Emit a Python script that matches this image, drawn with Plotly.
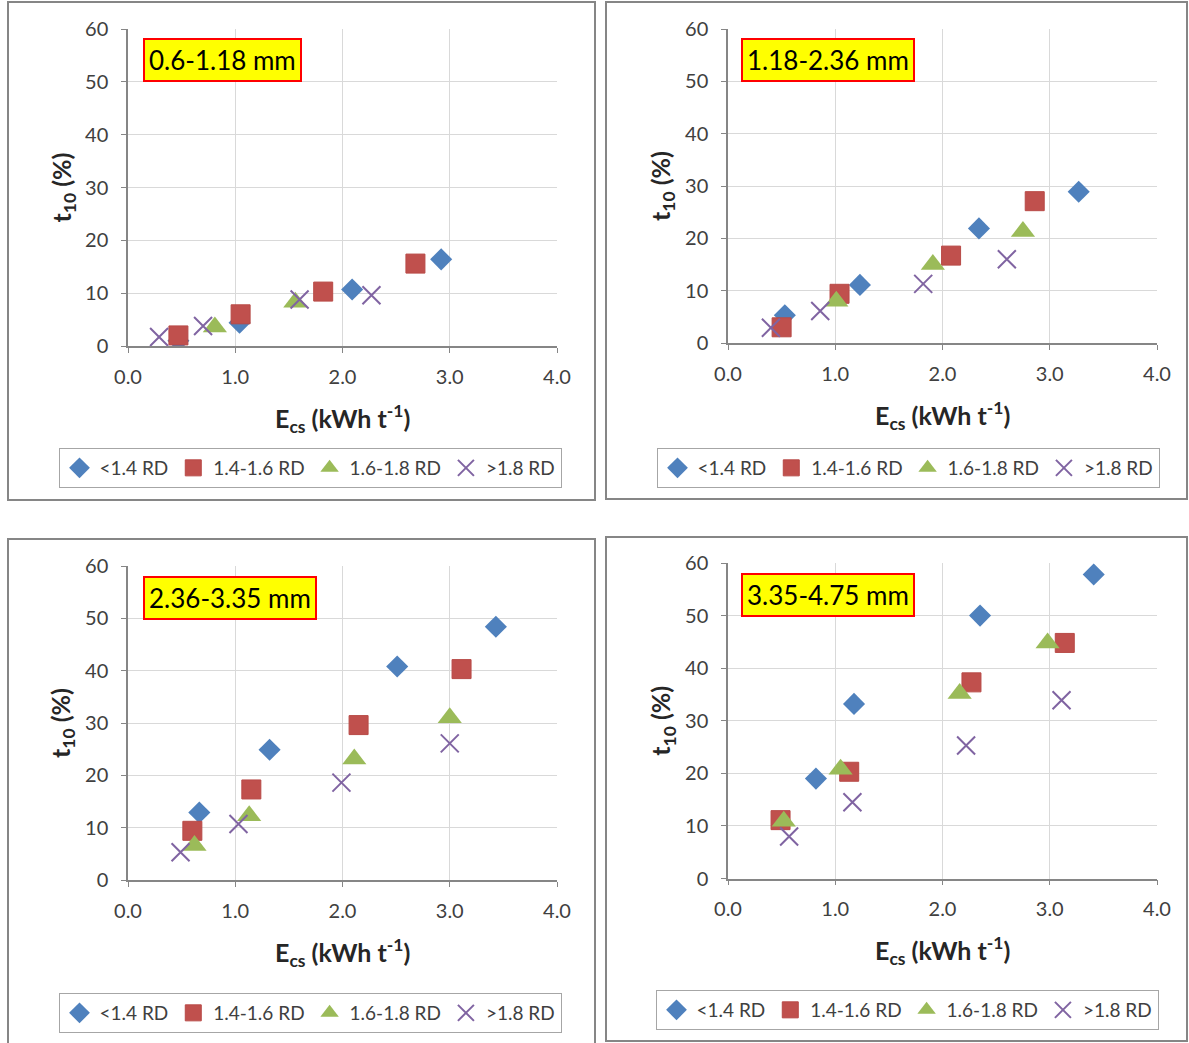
import plotly.graph_objects as go

W, H = 1189, 1043
FONT = "Lato"

series_names = ["<1.4 RD", "1.4-1.6 RD", "1.6-1.8 RD", ">1.8 RD"]
panel_labels = ["0.6-1.18 mm", "1.18-2.36 mm", "2.36-3.35 mm", "3.35-4.75 mm"]
x_ticks = [0.0, 1.0, 2.0, 3.0, 4.0]
x_tick_text = ["0.0", "1.0", "2.0", "3.0", "4.0"]
y_ticks = [0, 10, 20, 30, 40, 50, 60]

# Panel 1: 0.6-1.18 mm
p1_lt14_x = [0.47, 1.04, 2.09, 2.92]
p1_lt14_y = [1.0, 4.4, 10.7, 16.4]
p1_14_16_x = [0.47, 1.05, 1.82, 2.68]
p1_14_16_y = [2.0, 6.0, 10.3, 15.6]
p1_16_18_x = [0.81, 1.56]
p1_16_18_y = [3.6, 8.3]
p1_gt18_x = [0.29, 0.70, 1.60, 2.27]
p1_gt18_y = [1.7, 3.8, 8.8, 9.6]

# Panel 2: 1.18-2.36 mm
p2_lt14_x = [0.53, 1.23, 2.34, 3.27]
p2_lt14_y = [5.3, 11.1, 21.9, 28.9]
p2_14_16_x = [0.50, 1.04, 2.08, 2.86]
p2_14_16_y = [3.0, 9.4, 16.7, 27.1]
p2_16_18_x = [1.01, 1.91, 2.75]
p2_16_18_y = [8.0, 15.0, 21.3]
p2_gt18_x = [0.40, 0.86, 1.82, 2.60]
p2_gt18_y = [2.9, 6.1, 11.3, 16.0]

# Panel 3: 2.36-3.35 mm
p3_lt14_x = [0.665, 1.32, 2.51, 3.43]
p3_lt14_y = [12.9, 24.9, 40.8, 48.4]
p3_14_16_x = [0.60, 1.15, 2.15, 3.11]
p3_14_16_y = [9.4, 17.3, 29.6, 40.3]
p3_16_18_x = [0.62, 1.13, 2.11, 3.00]
p3_16_18_y = [6.6, 12.3, 23.1, 31.0]
p3_gt18_x = [0.49, 1.03, 1.99, 3.00]
p3_gt18_y = [5.3, 10.7, 18.6, 26.1]

# Panel 4: 3.35-4.75 mm
p4_lt14_x = [0.82, 1.175, 2.35, 3.41]
p4_lt14_y = [19.0, 33.2, 50.0, 57.8]
p4_14_16_x = [0.49, 1.13, 2.27, 3.14]
p4_14_16_y = [11.1, 20.3, 37.3, 44.8]
p4_16_18_x = [0.52, 1.05, 2.16, 2.98]
p4_16_18_y = [10.9, 20.8, 35.2, 44.8]
p4_gt18_x = [0.57, 1.16, 2.22, 3.11]
p4_gt18_y = [8.0, 14.5, 25.3, 33.9]

panels = [
    [(p1_lt14_x, p1_lt14_y), (p1_14_16_x, p1_14_16_y), (p1_16_18_x, p1_16_18_y), (p1_gt18_x, p1_gt18_y)],
    [(p2_lt14_x, p2_lt14_y), (p2_14_16_x, p2_14_16_y), (p2_16_18_x, p2_16_18_y), (p2_gt18_x, p2_gt18_y)],
    [(p3_lt14_x, p3_lt14_y), (p3_14_16_x, p3_14_16_y), (p3_16_18_x, p3_16_18_y), (p3_gt18_x, p3_gt18_y)],
    [(p4_lt14_x, p4_lt14_y), (p4_14_16_x, p4_14_16_y), (p4_16_18_x, p4_16_18_y), (p4_gt18_x, p4_gt18_y)],
]

markers = [
    dict(symbol="diamond", size=17, color="#4F81BD", line=dict(width=0)),
    dict(symbol="square", size=19, color="#C0504D", line=dict(width=1, color="#B84A47")),
    dict(symbol="triangle-up", size=21, color="#9BBB59", line=dict(width=0)),
    dict(symbol="x-thin-open", size=18, color="#8064A2", line=dict(width=2, color="#8064A2")),
]

def px(x):
    return x / W

def py(y):
    return 1 - y / H

# Pixel geometry of each panel
plot_px = [  # x0, x1, ytop, ybottom
    (128, 557, 29, 346),
    (728, 1157, 29, 343),
    (128, 557, 566, 880),
    (728, 1157, 563, 878.5),
]
frame_px = [
    (8, 595, 2, 500),
    (606, 1187, 2, 499),
    (8, 595, 539, 1046),
    (606, 1187, 537, 1041),
]
label_px = [(143, 38), (741, 38), (143, 576), (741, 573)]
legend_px = [(310, 448), (908, 448), (310, 993), (907, 990)]

fig = go.Figure()
layout = dict(
    width=W, height=H,
    margin=dict(l=0, r=0, t=0, b=0, pad=0, autoexpand=False),
    paper_bgcolor="white", plot_bgcolor="white",
    font=dict(family=FONT, size=20, color="#404040"),
    shapes=[], annotations=[],
)

for i, pdata in enumerate(panels):
    n = "" if i == 0 else str(i + 1)
    leg = "legend" + n
    for j, (xs, ys) in enumerate(pdata):
        fig.add_trace(go.Scatter(
            x=xs, y=ys, mode="markers", name=series_names[j],
            marker=markers[j], xaxis="x" + n, yaxis="y" + n, legend=leg,
            showlegend=True,
        ))
    x0, x1, yt, yb = plot_px[i]
    axis_common = dict(
        showgrid=True, gridcolor="#d9d9d9", gridwidth=1,
        showline=True, linecolor="#868686", linewidth=1.5,
        ticks="outside", ticklen=5, tickcolor="#868686", tickwidth=1,
        zeroline=False, tickfont=dict(family=FONT, size=20, color="#404040"),
        fixedrange=True, automargin=False,
    )
    layout["xaxis" + n] = dict(
        axis_common, domain=[px(x0), px(x1)], range=[0, 4],
        tickvals=x_ticks, ticktext=x_tick_text, anchor="y" + n,
        ticklabelstandoff=7,
    )
    layout["yaxis" + n] = dict(
        axis_common, domain=[py(yb), py(yt)], range=[0, 60],
        tickvals=y_ticks, anchor="x" + n, ticklabelstandoff=9,
    )
    # frame
    fx0, fx1, fy0, fy1 = frame_px[i]
    layout["shapes"].append(dict(
        type="rect", xref="paper", yref="paper",
        x0=px(fx0), x1=px(fx1), y0=py(fy1), y1=py(fy0),
        line=dict(color="#868686", width=2), layer="below",
    ))
    # axis titles
    layout["annotations"].append(dict(
        xref="paper", yref="paper", x=px((x0 + x1) / 2), y=py(yb + 72),
        text="<b>E<sub>cs</sub> (kWh t<sup>-1</sup>)</b>", showarrow=False,
        font=dict(family=FONT, size=25, color="#262626"),
        xanchor="center", yanchor="middle",
    ))
    layout["annotations"].append(dict(
        xref="paper", yref="paper", x=px(x0 - 66), y=py((yt + yb) / 2),
        text="<b>t<sub>10</sub> (%)</b>", showarrow=False, textangle=-90,
        font=dict(family=FONT, size=25, color="#262626"),
        xanchor="center", yanchor="middle",
    ))
    # panel label
    lx, ly = label_px[i]
    layout["annotations"].append(dict(
        xref="paper", yref="paper", x=px(lx), y=py(ly),
        text=panel_labels[i], showarrow=False,
        font=dict(family=FONT, size=26, color="black"),
        xanchor="left", yanchor="top",
        bgcolor="#FFFF00", bordercolor="#FF0000", borderwidth=2, borderpad=4,
    ))
    # legend
    gx, gy = legend_px[i]
    layout[leg] = dict(
        orientation="h", x=px(gx), y=py(gy), xanchor="center", yanchor="top",
        xref="paper", yref="paper",
        bordercolor="#a6a6a6", borderwidth=1, bgcolor="white",
        font=dict(family=FONT, size=19, color="#404040"),
        itemwidth=30, tracegroupgap=0,
    )

fig.update_layout(**layout)
fig.write_html("out.html")
